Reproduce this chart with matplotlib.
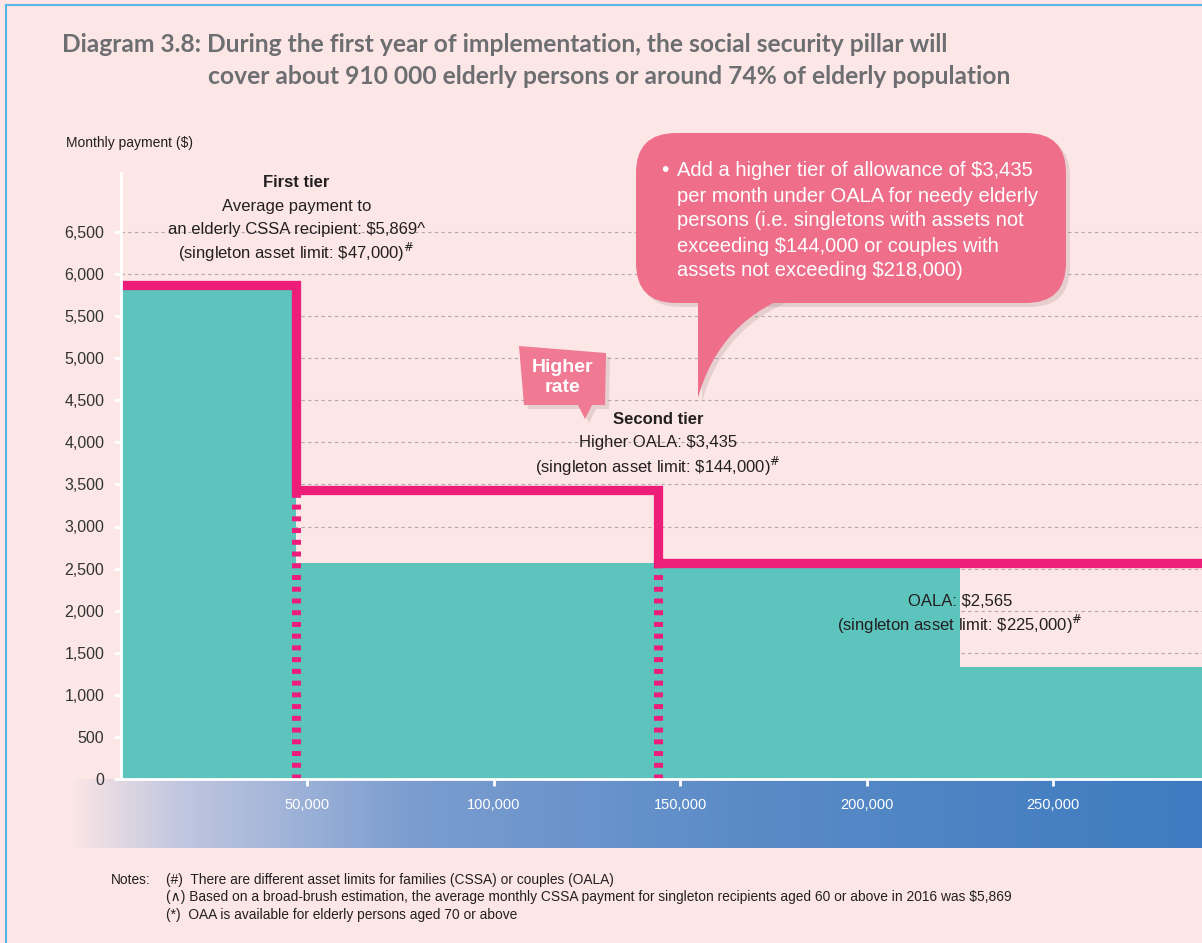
import numpy as np
import matplotlib
matplotlib.use("Agg")
import matplotlib.pyplot as plt
from matplotlib.colors import LinearSegmentedColormap
from matplotlib.patches import FancyBboxPatch, Polygon, PathPatch
from matplotlib.path import Path
from matplotlib.lines import Line2D
from matplotlib.transforms import Affine2D

# asset limits (HK$) and monthly payments (HK$)
tier_edges = [0, 47000, 144000, 225000, 290000]
base_payment = [5869, 2565, 2565, 1325]      # CSSA, OALA, OALA, OAA
step_edges = [0, 47000, 144000, 290000]
step_payment = [5869, 3435, 2565]            # with the new higher OALA tier
y_ticks = list(range(0, 7000, 500))
x_ticks = [50000, 100000, 150000, 200000, 250000]

bubble_lines = ["Add a higher tier of allowance of $3,435",
                "per month under OALA for needy elderly",
                "persons (i.e. singletons with assets not",
                "exceeding $144,000 or couples with",
                "assets not exceeding $218,000)"]
notes = ["(#)  There are different asset limits for families (CSSA) or couples (OALA)",
         "(\u2227) Based on a broad-brush estimation, the average monthly CSSA payment for singleton recipients aged 60 or above in 2016 was $5,869",
         "(*)  OAA is available for elderly persons aged 70 or above"]

BG = "#fce6e6"
TEAL = "#5cc4bc"
PINK = "#ed1e79"
BUBBLE = "#ef6f8b"
TXT = "#231f20"

plt.rcParams['font.family'] = ["Liberation Sans", "DejaVu Sans"]

W, H = 1202, 943
fig = plt.figure(figsize=(W / 100, H / 100), dpi=100, facecolor=BG)
px = Affine2D().scale(1 / W, -1 / H).translate(0, 1) + fig.transFigure

# gradient band under the x axis
gax = fig.add_axes([70 / W, 1 - 848 / H, (W - 70) / W, 69 / H], zorder=0)
cmap = LinearSegmentedColormap.from_list(
    "band", [(0, BG), (0.09, "#c3c8e0"), (0.3, "#7b9dd0"), (0.6, "#5a8bc7"), (1, "#3e7bc0")])
gax.imshow(np.linspace(0, 1, 512)[None, :], aspect="auto", cmap=cmap, extent=[0, 1, 0, 1])
gax.axis("off")

ax = fig.add_axes([121 / W, 1 - 779 / H, (W - 121) / W, (779 - 173) / H], zorder=1)
ax.patch.set_visible(False)
ax.set_xlim(0, 290000)
ax.set_ylim(0, 7200)

ax.stairs(base_payment, tier_edges, fill=True, color=TEAL, lw=0, zorder=2)
sp = ax.stairs(step_payment, step_edges, baseline=None, color=PINK, lw=6.7, zorder=4)
sp.set_joinstyle("miter")
sp.set_capstyle("butt")
ax.vlines(step_edges[1:-1], 0, step_payment[1:], colors=PINK, lw=6.5,
          linestyles=[(0, (0.55, 0.75))], zorder=3)

ax.set_yticks(y_ticks)
ax.set_yticklabels([f"{v:,}" for v in y_ticks])
ax.set_xticks(x_ticks)
ax.set_xticklabels([f"{v:,}" for v in x_ticks])
ax.yaxis.grid(True, linestyle=(0, (3, 3)), color="#b3a9ab", lw=0.8)
ax.set_axisbelow(True)
for s in ["top", "right"]:
    ax.spines[s].set_visible(False)
for s in ["left", "bottom"]:
    ax.spines[s].set_color("white")
    ax.spines[s].set_linewidth(2)
    ax.spines[s].set_zorder(5)
ax.tick_params(axis="y", colors="white", labelcolor="#333333", length=5, width=2,
               labelsize=11.5, pad=7)
ax.tick_params(axis="x", colors="white", labelcolor="white", length=5, width=2,
               labelsize=10.5, pad=9)

fs = 12
ax.text(47000, 7083, "First tier", ha="center", va="center", fontsize=fs, fontweight="bold", color=TXT)
ax.text(47000, 6797, "Average payment to", ha="center", va="center", fontsize=fs, color=TXT)
ax.text(47000, 6524, "an elderly CSSA recipient: $5,869^", ha="center", va="center", fontsize=fs, color=TXT)
ax.text(47000, 6251, r"(singleton asset limit: \$47,000)$^{\#}$", ha="center", va="center", fontsize=fs, color=TXT)
ax.text(144000, 4266, "Second tier", ha="center", va="center", fontsize=fs, fontweight="bold", color=TXT)
ax.text(144000, 3993, "Higher OALA: $3,435", ha="center", va="center", fontsize=fs, color=TXT)
ax.text(144000, 3708, r"(singleton asset limit: \$144,000)$^{\#}$", ha="center", va="center", fontsize=fs, color=TXT)
ax.text(225000, 2103, "OALA: $2,565", ha="center", va="center", fontsize=fs, color=TXT, zorder=6)
ax.text(225000, 1842, r"(singleton asset limit: \$225,000)$^{\#}$", ha="center", va="center", fontsize=fs, color=TXT, zorder=6)

# callout bubble
shadow = dict(color="#8a6a70", alpha=0.18, lw=0, transform=px, zorder=4)
tail = Path([(698, 292), (698, 398), (720, 318), (800, 292), (698, 292)],
            [Path.MOVETO, Path.LINETO, Path.CURVE3, Path.CURVE3, Path.CLOSEPOLY])
for dx, style in [(4, shadow), (0, dict(color=BUBBLE, lw=0, transform=px, zorder=5))]:
    fig.add_artist(FancyBboxPatch((636 + 40 + dx, 133 + 40 + dx), 430 - 80, 170 - 80,
                                  boxstyle="round,pad=40", **style))
    fig.add_artist(PathPatch(tail.transformed(Affine2D().translate(dx, dx)), **style))
fig.text(661, 171, "\u2022", transform=px, color="white", fontsize=15, va="center", zorder=6)
for i, line in enumerate(bubble_lines):
    fig.text(677, 171 + i * 25, line, transform=px, color="white", fontsize=14.5,
             va="center", zorder=6)

# "Higher rate" tag
tag = [(519, 346), (606, 353), (605, 405), (592, 405), (585, 419), (578, 405), (524, 405)]
fig.add_artist(Polygon([(x + 4, y + 4) for x, y in tag], **shadow))
fig.add_artist(Polygon(tag, color="#f07a93", lw=0, transform=px, zorder=5))
fig.text(563, 368, "Higher", transform=px, color="white", fontsize=14, fontweight="bold",
         ha="center", va="center", zorder=6)
fig.text(563, 388, "rate", transform=px, color="white", fontsize=14, fontweight="bold",
         ha="center", va="center", zorder=6)

# title, axis label, notes
title_font = dict(transform=px, fontsize=17.7, fontweight="bold", color="#6d6e71",
                  family=["Lato", "DejaVu Sans"], va="center")
fig.text(62, 44, "Diagram 3.8: During the first year of implementation, the social security pillar will", **title_font)
fig.text(208, 76, "cover about 910 000 elderly persons or around 74% of elderly population", **title_font)
fig.text(66, 143, "Monthly payment ($)", transform=px, fontsize=10, color=TXT, va="center")
fig.text(111, 880, "Notes:", transform=px, fontsize=9.9, color=TXT, va="center")
for i, n in enumerate(notes):
    fig.text(166, 880 + i * 17.5, n, transform=px, fontsize=9.9, color=TXT, va="center")

# frame edge
fig.add_artist(Line2D([6, W], [5, 5], transform=px, color="#5ab4e5", lw=1.5))
fig.add_artist(Line2D([6, 6], [5, H], transform=px, color="#5ab4e5", lw=1.5))

fig.savefig("out.png", dpi=100, facecolor=BG)
